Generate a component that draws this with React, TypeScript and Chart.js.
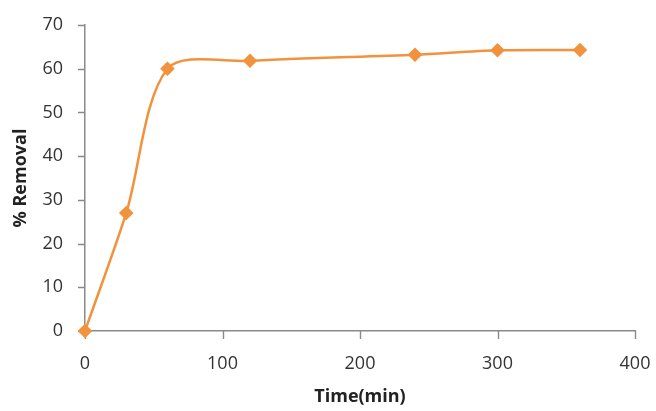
import React, { useEffect, useRef } from "react";
import { Chart, registerables } from "chart.js";

Chart.register(...registerables);

const timeMin = [0, 30, 60, 120, 240, 300, 360];
const removal = [0, 27, 60, 61.8, 63.2, 64.2, 64.3];
const xTicks = [0, 100, 200, 300, 400];
const yTicks = [0, 10, 20, 30, 40, 50, 60, 70];

const ORANGE = "#F2923C";
const AXIS = "#8a8a8a";
const FONT = "'Open Sans', 'Liberation Sans', sans-serif";

const tickMarks = {
  id: "tickMarks",
  beforeDatasetsDraw(chart: any) {
    const ctx = chart.ctx;
    const xs = chart.scales.x;
    const ys = chart.scales.y;
    ctx.save();
    ctx.strokeStyle = AXIS;
    ctx.lineWidth = 1.4;
    ctx.beginPath();
    xs.ticks.forEach((t: any) => {
      const px = Math.round(xs.getPixelForValue(t.value)) + 0.5;
      ctx.moveTo(px, xs.top);
      ctx.lineTo(px, xs.top + 8);
    });
    ys.ticks.forEach((t: any) => {
      const py = Math.round(ys.getPixelForValue(t.value)) + 0.5;
      ctx.moveTo(ys.right, py);
      ctx.lineTo(ys.right - 7, py);
    });
    ctx.stroke();
    ctx.restore();
  },
};

export default function App() {
  const ref = useRef<HTMLCanvasElement | null>(null);

  useEffect(() => {
    document.body.style.margin = "0";
    const ctx = ref.current;
    if (!ctx) return;
    const chart = new Chart(ctx, {
      type: "line",
      data: {
        datasets: [
          {
            data: timeMin.map((t, i) => ({ x: t, y: removal[i] })),
            borderColor: ORANGE,
            backgroundColor: ORANGE,
            borderWidth: 2.5,
            pointStyle: "rectRot",
            pointRadius: 5.5,
            pointHoverRadius: 5.5,
            tension: 0.3,
            fill: false,
            clip: false,
          },
        ],
      },
      plugins: [tickMarks],
      options: {
        animation: false,
        responsive: false,
        maintainAspectRatio: false,
        layout: { padding: { top: 25, right: 21, left: 0, bottom: 0 } },
        plugins: { legend: { display: false }, tooltip: { enabled: false } },
        scales: {
          x: {
            type: "linear",
            min: 0,
            max: 400,
            afterBuildTicks: (s: any) => {
              s.ticks = xTicks.map((v) => ({ value: v }));
            },
            afterFit: (s: any) => {
              s.height = 80;
              s.paddingLeft = 0;
              s.paddingRight = 0;
            },
            grid: { display: false, drawTicks: true, tickLength: 8 },
            border: { display: true, color: AXIS, width: 1.5 },
            ticks: {
              color: "#333",
              font: { family: FONT, size: 18 },
              padding: 14,
              maxRotation: 0,
            },
            title: {
              display: true,
              text: "Time(min)",
              color: "#222",
              font: { family: FONT, size: 18, weight: "bold" },
              padding: { top: 0, bottom: 3 },
            },
          },
          y: {
            type: "linear",
            min: 0,
            max: 70,
            afterBuildTicks: (s: any) => {
              s.ticks = yTicks.map((v) => ({ value: v }));
            },
            afterFit: (s: any) => {
              s.width = 85;
              s.paddingTop = 0;
              s.paddingBottom = 0;
            },
            grid: { display: false, drawTicks: true, tickLength: 7 },
            border: { display: true, color: AXIS, width: 1.5 },
            ticks: {
              color: "#333",
              font: { family: FONT, size: 18 },
              padding: 15,
            },
            title: {
              display: true,
              text: "% Removal",
              color: "#222",
              font: { family: FONT, size: 18, weight: "bold" },
              padding: { top: 10, bottom: 0 },
            },
          },
        },
      },
    });
    return () => chart.destroy();
  }, []);

  return (
    <div style={{ width: 656, height: 411, background: "#fff" }}>
      <canvas ref={ref} width={656} height={411} style={{ width: 656, height: 411 }} />
    </div>
  );
}
